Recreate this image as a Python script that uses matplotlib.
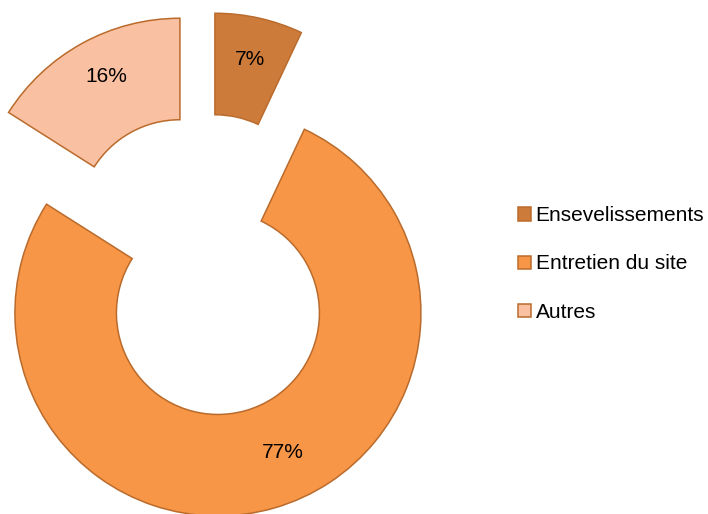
import matplotlib
matplotlib.use("Agg")
import matplotlib.pyplot as plt
import numpy as np

categories = ["Ensevelissements", "Entretien du site", "Autres"]
values = [7, 77, 16]
colors = ["#CD7B3B", "#F79646", "#FAC0A2"]
edge = "#BA6B2C"

plt.rcParams['font.family'] = ['Liberation Sans', 'DejaVu Sans']

W, H = 708, 514
fig = plt.figure(figsize=(W / 100, H / 100), dpi=100)
ax = fig.add_axes([0, 0, 1, 1])

R_px = 203.0
cx_px, cy_px = 204.0, 265.0

wedges, texts, autotexts = ax.pie(
    values, colors=colors, startangle=90, counterclock=False,
    radius=1.0, explode=[0.246] * len(values),
    wedgeprops=dict(width=0.5, edgecolor=edge, linewidth=1.1),
    autopct=lambda p: f"{p:.0f}%", pctdistance=0.79,
    textprops=dict(fontsize=15, color="black"),
)

# Excel-style placement of the slice labels
w = wedges[1]
ang = np.deg2rad(-65)
cxw, cyw = w.center
autotexts[1].set_position((cxw + 0.76 * np.cos(ang), cyw + 0.76 * np.sin(ang)))
w = wedges[2]
ang = np.deg2rad(117)
cxw, cyw = w.center
autotexts[2].set_position((cxw + 0.80 * np.cos(ang), cyw + 0.80 * np.sin(ang)))

ax.set_xlim(-cx_px / R_px, (W - cx_px) / R_px)
ax.set_ylim(-(H - cy_px) / R_px, cy_px / R_px)
ax.axis("off")

fig.legend(wedges, categories, loc="center left",
           bbox_to_anchor=(518 / W, 1 - 264 / H), frameon=False,
           fontsize=15, handlelength=0.6, handleheight=0.6,
           handletextpad=0.25, labelspacing=1.4, borderpad=0,
           borderaxespad=0)

fig.savefig("out.png", dpi=100)
